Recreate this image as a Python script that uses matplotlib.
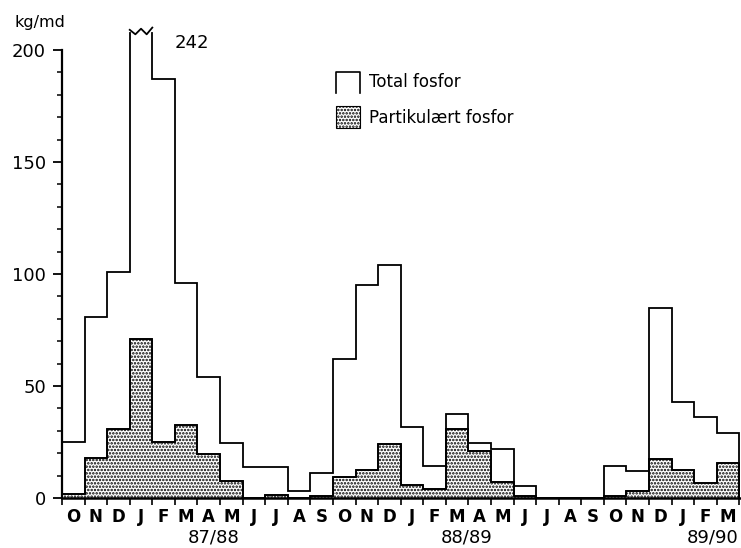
import numpy as np
import matplotlib
matplotlib.use('Agg')
import matplotlib.pyplot as plt
from matplotlib.patches import Rectangle

# monthly loads, kg/md, Oct 87 .. Mar 90
months = ['O', 'N', 'D', 'J', 'F', 'M', 'A', 'M', 'J', 'J', 'A', 'S'] * 2 + ['O', 'N', 'D', 'J', 'F', 'M']
total = [25, 81, 101, 242, 187, 96, 54, 24.5, 14, 14, 3, 11,
         62, 95, 104, 31.5, 14.5, 37.5, 24.5, 22, 5.5, 0, 0, 0,
         14.5, 12, 85, 43, 36, 29]
partikulaert = [2, 18, 31, 71, 25, 32.5, 19.5, 7.5, 0, 1.5, 0, 1,
                9.5, 12.5, 24, 6, 4, 31, 21, 7, 1, 0, 0, 0,
                1, 3, 17.5, 12.5, 6.5, 15.5]
seasons = ['87/88', '88/89', '89/90']
season_pos = [6.7, 17.9, 28.8]
cut = 209  # y level where the off-scale bar is broken

plt.rcParams['font.family'] = 'DejaVu Sans'
plt.rcParams['hatch.linewidth'] = 1.2
fig = plt.figure(figsize=(7.41, 5.48), dpi=100)
ax = fig.add_axes([62 / 741, 50 / 548, 678 / 741, 492.8 / 548])

edges = np.arange(len(total) + 1)
total_shown = np.minimum(total, cut)

ax.stairs(partikulaert, edges, baseline=0, fill=True, facecolor='white',
          edgecolor='black', hatch='.....', linewidth=1.1)
ax.stairs(partikulaert, edges, baseline=0, color='black', linewidth=1.3)
ax.stairs(total_shown, edges, baseline=0, color='black', linewidth=1.3)

# broken top on the bar that goes off scale
i_big = int(np.argmax(total))
ax.plot([edges[i_big], edges[i_big + 1]], [cut, cut], color='white', lw=3, zorder=4)
zx = np.linspace(edges[i_big], edges[i_big + 1], 5)
zy = cut + np.array([0, -2, 0.5, -2, 1])
ax.plot(zx, zy, color='black', lw=1.3, zorder=5)
ax.text(edges[i_big + 1] + 1.0, 203, str(total[i_big]), fontsize=13, va='center')

ax.set_xlim(0, len(total) + 0.03)
ax.set_ylim(0, 220)

for s in ['top', 'right']:
    ax.spines[s].set_visible(False)
ax.spines['left'].set_bounds(0, 200)
ax.spines['left'].set_linewidth(1.6)
ax.spines['bottom'].set_linewidth(1.8)

ax.set_yticks([0, 50, 100, 150, 200])
ax.set_yticks(np.arange(0, 201, 10), minor=True)
ax.tick_params(axis='y', which='major', length=6.5, width=1.3, labelsize=13, pad=5)
ax.tick_params(axis='y', which='minor', length=3.6, width=1.1)

ax.set_xticks(edges)
ax.set_xticklabels([])
ax.set_xticks(edges[:-1] + 0.5, minor=True)
ax.set_xticklabels(months, minor=True, fontweight='bold', fontsize=12)
ax.tick_params(axis='x', which='major', length=5, width=1.2, direction='out')
ax.tick_params(axis='x', which='minor', length=0, pad=7)

for lab, xp in zip(seasons, season_pos):
    ax.text(xp, -17.5, lab, fontsize=13, ha='center', va='center', clip_on=False)

ax.text(-2.1, 209, 'kg/md', fontsize=11.5, va='bottom', ha='left', clip_on=False)

# legend drawn by hand
ax.plot([12.12, 12.12, 13.19, 13.19], [181, 190, 190, 181], color='black', lw=1.2)
ax.add_patch(Rectangle((12.12, 165), 1.07, 10, facecolor='white', edgecolor='black',
                       hatch='.....', lw=0.8))
ax.text(13.6, 185.5, 'Total fosfor', fontsize=12, va='center')
ax.text(13.6, 169.5, 'Partikulært fosfor', fontsize=12, va='center')

fig.savefig('out.png', dpi=100)
